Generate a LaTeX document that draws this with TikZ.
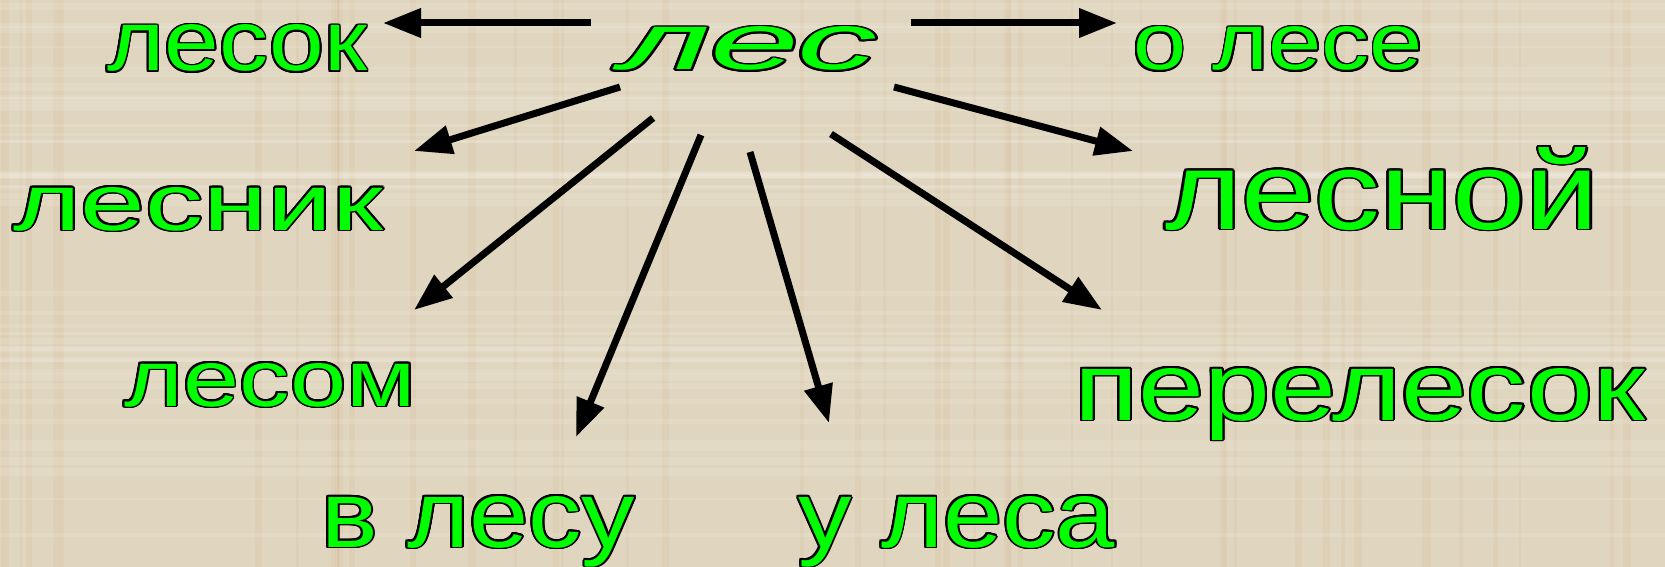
\documentclass[tikz,border=0pt]{standalone}
\usepackage{fontspec}
\setmainfont{Liberation Sans}
\usepackage{graphicx,xcolor,tikz}
\usepackage{contour}
\usetikzlibrary{positioning, arrows.meta}

\definecolor{paper}{RGB}{224,213,190}
\definecolor{neon}{RGB}{0,255,0}
\contourlength{1.8pt}
\newcommand{\slovo}[3]{\resizebox{#1pt}{#2pt}{\contour{black}{#3}}}

\begin{document}
\begin{tikzpicture}[
        x=1pt, y=-1pt,
        word/.style={text=neon, inner sep=0pt, anchor=base west, font=\fontsize{100}{110}\selectfont},
        arrow/.style={draw, line width=7pt, -{Triangle[length=38pt,width=28pt]}}
    ]

    % Hintergrund
    \useasboundingbox (0,0) rectangle (1665,567);
    \fill[paper] (0,0) rectangle (1665,567);
    \pgfmathsetseed{11}
    \foreach \i in {1,...,45} {
        \pgfmathsetmacro\yy{rnd*567}
        \pgfmathsetmacro\hh{2+rnd*6}
        \fill[white, opacity=0.12] (0,\yy) rectangle (1665,\yy+\hh);
    }
    \foreach \i in {1,...,45} {
        \pgfmathsetmacro\xx{rnd*1665}
        \pgfmathsetmacro\ww{2+rnd*6}
        \fill[brown, opacity=0.05] (\xx,0) rectangle (\xx+\ww,567);
    }

    % Woerter
    \node (les) [word] at (620,70) {\slovo{257}{43}{\itshape лес}};
    \node (lesok) [word] at (107,71) {\slovo{260}{46}{лесок}};
    \node (olese) [word] at (1133,70) {\slovo{290}{43}{о лесе}};
    \node (lesnik) [word] at (13,230) {\slovo{370}{43}{лесник}};
    \node (lesnoj) [word] at (1165,229) {\slovo{434}{82}{лесной}};
    \node (lesom) [word] at (124,406) {\slovo{292}{43}{лесом}};
    \node (pereles) [word] at (1074,420) {\slovo{571}{52}{перелесок}};
    \node (vlesu) [word] at (321,547) {\slovo{314}{51}{в лесу}};
    \node (ulesa) [word] at (798,547) {\slovo{317}{51}{у леса}};

    % Pfeile
    \coordinate (s1) at (591,23);  \coordinate (e1) at (383,23);
    \coordinate (s2) at (911,23);  \coordinate (e2) at (1117,23);
    \coordinate (s3) at (620,87);  \coordinate (e3) at (414,151);
    \coordinate (s4) at (653,118); \coordinate (e4) at (414,310);
    \coordinate (s5) at (701,135); \coordinate (e5) at (576,437);
    \coordinate (s6) at (750,152); \coordinate (e6) at (829,423);
    \coordinate (s7) at (831,134); \coordinate (e7) at (1102,310);
    \coordinate (s8) at (894,87);  \coordinate (e8) at (1133,151);

    \foreach \k in {1,...,8}
        \draw[arrow] (s\k) -- (e\k);

\end{tikzpicture}
\end{document}
